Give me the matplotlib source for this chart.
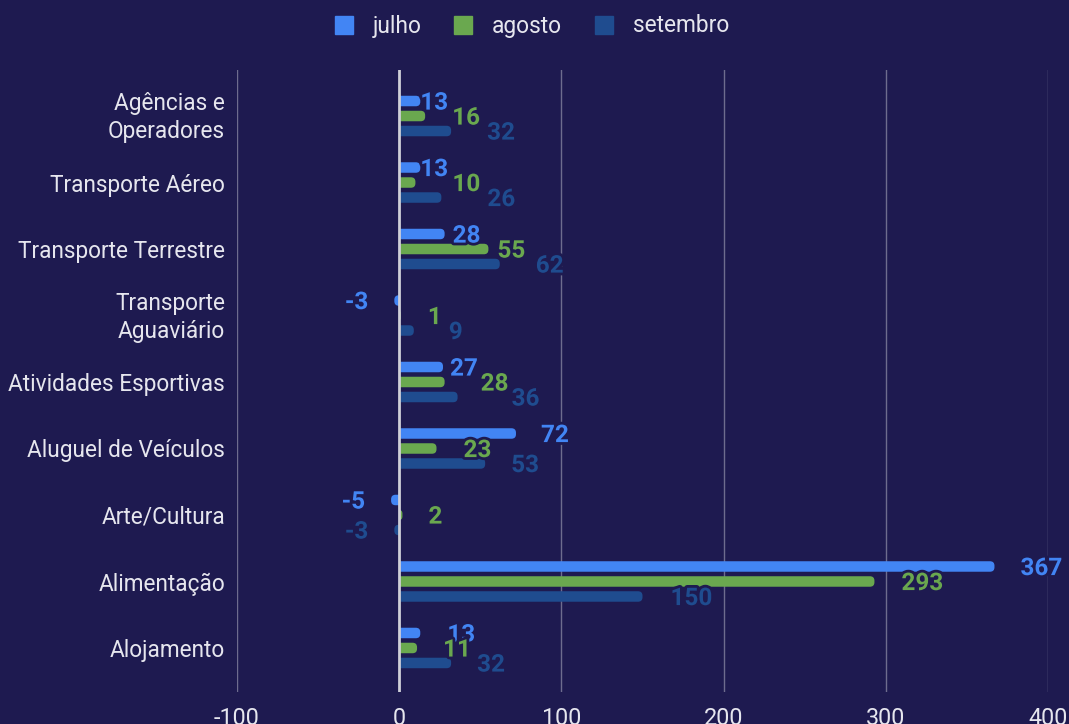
import matplotlib
matplotlib.use("Agg")
import matplotlib.pyplot as plt
from matplotlib.patches import FancyBboxPatch, Rectangle
from matplotlib.lines import Line2D
from matplotlib.transforms import ScaledTranslation
import matplotlib.patheffects as pe

plt.rcParams['font.family'] = ['Roboto', 'DejaVu Sans']

categories = ["Agências e\nOperadores", "Transporte Aéreo", "Transporte Terrestre",
              "Transporte\nAguaviário", "Atividades Esportivas", "Aluguel de Veículos",
              "Arte/Cultura", "Alimentação", "Alojamento"]
series_names = ["julho", "agosto", "setembro"]
julho = [13, 13, 28, -3, 27, 72, -5, 367, 13]
agosto = [16, 10, 55, 1, 28, 23, 2, 293, 11]
setembro = [32, 26, 62, 9, 36, 53, -3, 150, 32]
xticks = [-100, 0, 100, 200, 300, 400]

# layout: label gap from bar end (pixels), per series per category
label_gap_px = [
    [0, 0, 8, 26, 7, 25, 26, 26, 27],
    [27, 37, 9, 27, 36, 27, 26, 27, 26],
    [36, 46, 36, 35, 54, 26, 26, 28, 26],
]

colors = ["#4285f4", "#6aa84f", "#1f4c8f"]
bg = "#1e1a50"
txt = "#e6e6ee"

W, H = 1069, 724
fig = plt.figure(figsize=(W / 100, H / 100), dpi=100, facecolor=bg)
ax_l, ax_r, ax_t, ax_b = 237, 1048, 70, 692
ax = fig.add_axes([ax_l / W, 1 - ax_b / H, (ax_r - ax_l) / W, (ax_b - ax_t) / H])
ax.set_facecolor(bg)

xmin, xmax = -100, 400
ymin, ymax = -0.692, 8.662
ax.set_xlim(xmin, xmax)
ax.set_ylim(ymax, ymin)

px_x = (ax_r - ax_l) / (xmax - xmin)
px_y = (ax_b - ax_t) / (ymax - ymin)
aspect = px_x / px_y
bar_h = 10.5 / px_y
step = 15 / px_y
R = 4.5 / px_x

data = [julho, agosto, setembro]
for si, vals in enumerate(data):
    for ci, v in enumerate(vals):
        yc = ci + (si - 1) * step
        y0 = yc - bar_h / 2
        rr = min(R, (abs(v) + R) / 2)
        if v >= 0:
            box = FancyBboxPatch((-R, y0), v + R, bar_h,
                                 boxstyle=f"round,pad=0,rounding_size={rr}",
                                 mutation_aspect=aspect, facecolor=colors[si],
                                 edgecolor="none", zorder=2)
            clip = Rectangle((0, y0 - 1), 1000, bar_h + 2, transform=ax.transData)
        else:
            box = FancyBboxPatch((v, y0), -v + R, bar_h,
                                 boxstyle=f"round,pad=0,rounding_size={rr}",
                                 mutation_aspect=aspect, facecolor=colors[si],
                                 edgecolor="none", zorder=2)
            clip = Rectangle((-1000, y0 - 1), 1000, bar_h + 2, transform=ax.transData)
        ax.add_patch(box)
        box.set_clip_path(clip)
        gap_pt = label_gap_px[si][ci] * 0.72
        ax.annotate(f"{v}", xy=(v, yc), xytext=(gap_pt if v >= 0 else -gap_pt, -1.5),
                    textcoords="offset points", ha="left" if v >= 0 else "right",
                    va="center", fontsize=17.5, fontweight="bold", color=colors[si],
                    zorder=5,
                    path_effects=[pe.withStroke(linewidth=4, foreground=bg)])

for x in xticks:
    if x != 0:
        ax.axvline(x, color="#6e6c8e", lw=1, zorder=1)
ax.axvline(0, color="#cfcfd8", lw=2, zorder=3)

for s in ax.spines.values():
    s.set_visible(False)
ax.set_xticks(xticks)
ax.set_xticklabels([str(x) for x in xticks])
ax.set_yticks(range(len(categories)))
ax.set_yticklabels(categories, linespacing=1.3)
ax.tick_params(axis="x", length=0, pad=11, labelsize=16.8, labelcolor=txt)
ax.tick_params(axis="y", length=0, pad=8.5, labelsize=16.3, labelcolor=txt)
for lab in ax.get_yticklabels():
    if "\n" in lab.get_text():
        lab.set_transform(lab.get_transform() +
                          ScaledTranslation(0, 3.5 / 100, fig.dpi_scale_trans))

handles = [Line2D([], [], marker="s", linestyle="none", markersize=12.5,
                  markerfacecolor=c, markeredgecolor=c) for c in colors]
fig.legend(handles, series_names, loc="center", bbox_to_anchor=(0.497, 1 - 26 / H),
           ncol=3, frameon=False, fontsize=16.4, labelcolor=txt,
           handletextpad=0.8, columnspacing=1.4, handlelength=0.9)

fig.savefig("out.png", dpi=100, facecolor=bg)
